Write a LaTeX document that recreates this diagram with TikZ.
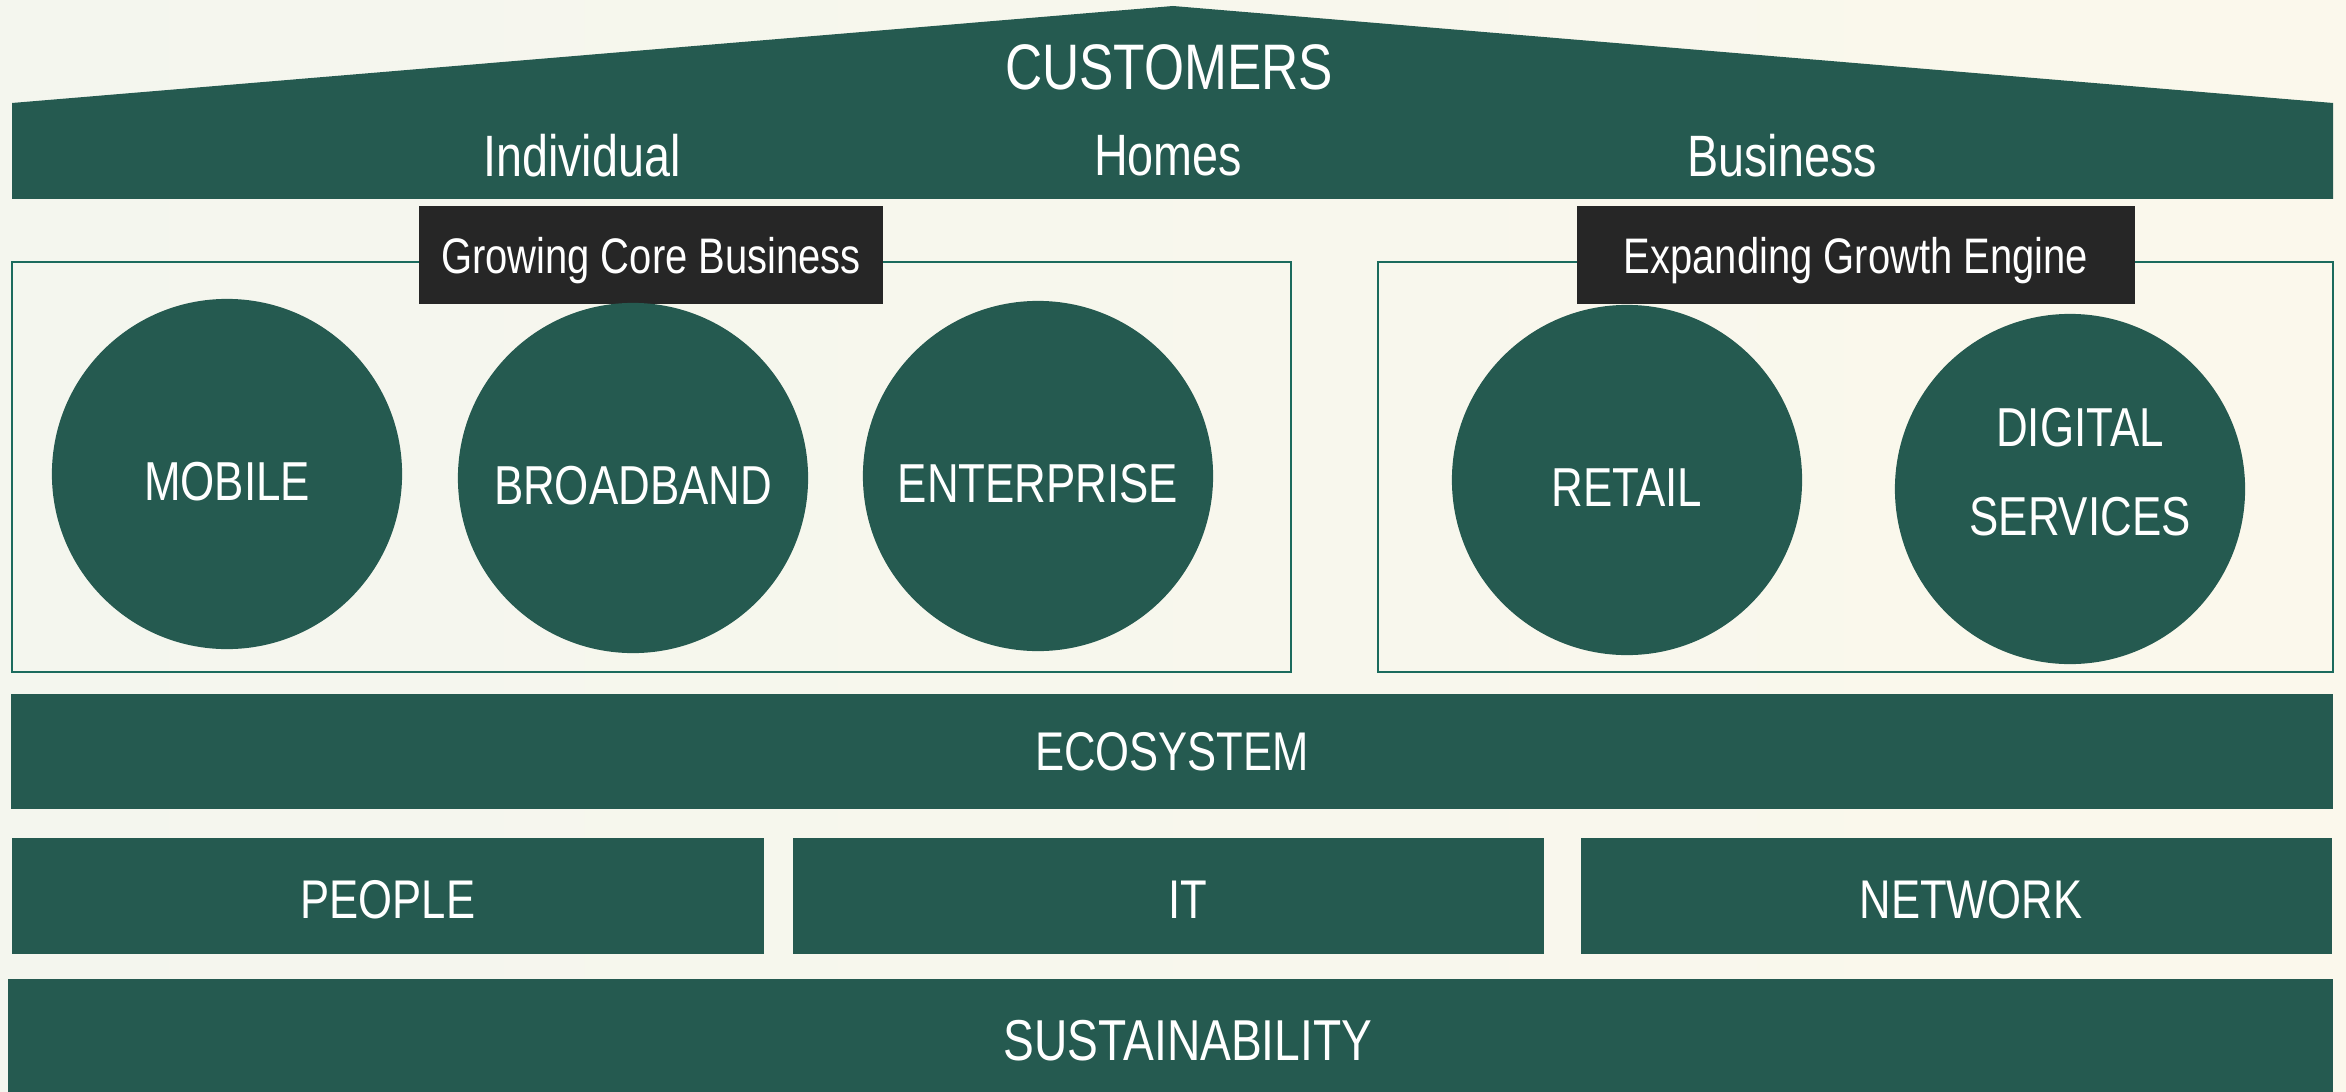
\documentclass[tikz,border=0pt]{standalone}
\usepackage{fontspec}
\setmainfont{Liberation Sans}[FakeStretch=0.8]
\usetikzlibrary{positioning}
\definecolor{pine}{HTML}{255A50}
\definecolor{pineline}{HTML}{1B6B5D}
\definecolor{tagdark}{HTML}{262626}
\definecolor{paperleft}{HTML}{F4F6EE}
\definecolor{paperright}{HTML}{FBF8EC}
\tikzset{
  band/.style={fill=pine,inner sep=0pt,text=white,font=\fontsize{15.5}{18}\selectfont},
  bandtext/.style={text=white,inner sep=0pt,font=\fontsize{15.5}{18}\selectfont},
  ring/.style={circle,fill=pine,inner sep=0pt,minimum size=3.5cm,text=white,
    text height=15pt,text depth=0pt,font=\fontsize{15.6}{18}\selectfont},
  tagbox/.style={fill=tagdark,inner sep=0pt,text=white,minimum height=0.97cm,
    text depth=0pt,font=\fontsize{14.2}{17}\selectfont},
  segframe/.style={draw=pineline,line width=0.8pt},
  rooftext/.style={text=white,inner sep=0pt,font=\fontsize{16.6}{20}\selectfont}
}

\begin{document}
\begin{tikzpicture}[x=0.01cm,y=-0.01cm]
  \useasboundingbox (0,0) rectangle (2346,1091);
  \shade[left color=paperleft,right color=paperright] (0,0) rectangle (2346,1091);

  % roof
  \fill[pine] (12,199) -- (12,103) -- (1173,6) -- (2333,103) -- (2333,199) -- cycle;
  \node[rooftext,font=\fontsize{18.3}{22}\selectfont] (customers) at (1169,67) {CUSTOMERS};
  \node[rooftext] (individual) at (582,156) {Individual};
  \node[rooftext] (homes) at (1168,156) {Homes};
  \node[rooftext] (business) at (1782,156) {Business};

  % core and growth segments
  \draw[segframe] (12,262) rectangle (1291,672);
  \draw[segframe] (1378,262) rectangle (2333,672);
  \node[tagbox,minimum width=4.63cm] (coretag) at (651,255) {Growing Core Business};
  \node[tagbox,minimum width=5.57cm] (growthtag) at (1856,255) {Expanding Growth Engine};

  \node[ring] (mobile) at (227,474) {MOBILE};
  \node[ring] (broadband) at (633,478) {BROADBAND};
  \node[ring] (enterprise) at (1038,476) {ENTERPRISE};
  \node[ring] (retail) at (1627,480) {RETAIL};
  \node[ring] (digital) at (2070,489) {};
  \node[bandtext,align=center,font=\fontsize{15.6}{25.3}\selectfont] (digitaltext) at (2080,472) {DIGITAL\\SERVICES};

  % foundations
  \node[band,minimum width=23.2cm,minimum height=1.15cm] (ecosystem) at (1172,751.5) {ECOSYSTEM};
  \node[band,minimum width=7.52cm,minimum height=1.16cm] (people) at (388,896) {};
  \node[bandtext] (peopletext) at (388,900) {PEOPLE};
  \node[band,minimum width=7.51cm,minimum height=1.16cm] (it) at (1168.5,896) {};
  \node[bandtext] (ittext) at (1188,900) {IT};
  \node[band,minimum width=7.51cm,minimum height=1.16cm] (network) at (1956.5,896) {};
  \node[bandtext] (networktext) at (1971,900) {NETWORK};
  \node[band,minimum width=23.23cm,minimum height=1.25cm] (sustain) at (1170.5,1042) {};
  \node[bandtext,font=\fontsize{16.4}{19}\selectfont] (sustaintext) at (1188,1041) {SUSTAINABILITY};
\end{tikzpicture}
\end{document}
